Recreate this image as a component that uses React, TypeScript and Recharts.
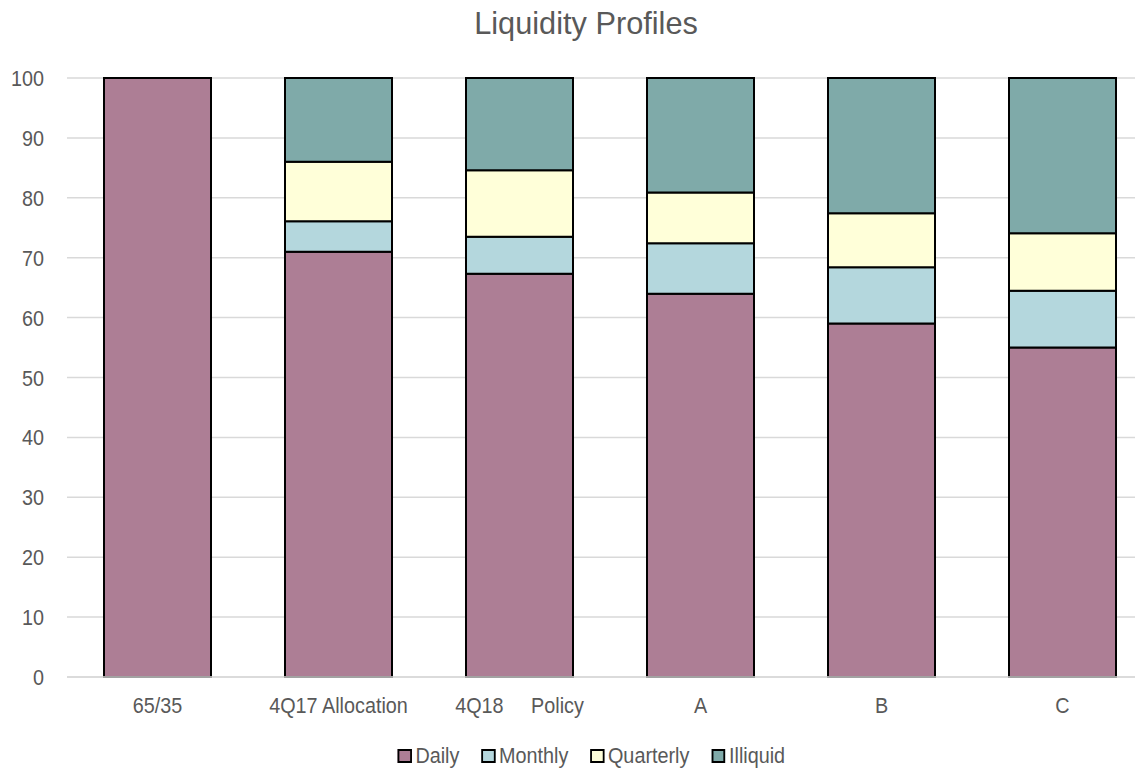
import { Bar, BarChart, CartesianGrid, Legend, XAxis, YAxis } from "recharts";

const CATEGORIES = ["65/35", "4Q17 Allocation", "4Q18     Policy", "A", "B", "C"];
const DAILY = [100, 71, 67.3, 64, 59, 55];
const MONTHLY = [0, 5.1, 6.2, 8.4, 9.4, 9.5];
const QUARTERLY = [0, 9.9, 11.1, 8.5, 9.0, 9.6];
const ILLIQUID = [0, 14, 15.4, 19.1, 22.6, 25.9];
const Y_TICKS = [0, 10, 20, 30, 40, 50, 60, 70, 80, 90, 100];

const SERIES = [
  { key: "Daily", values: DAILY, color: "#AD7E95" },
  { key: "Monthly", values: MONTHLY, color: "#B4D7DD" },
  { key: "Quarterly", values: QUARTERLY, color: "#FFFFD9" },
  { key: "Illiquid", values: ILLIQUID, color: "#7FAAA9" },
];

const rows = CATEGORIES.map((name, i) => {
  const row: Record<string, string | number> = { name };
  SERIES.forEach((s) => {
    row[s.key] = s.values[i];
  });
  return row;
});

const FONT = '"Liberation Sans", Arial, sans-serif';
const TEXT = "#595959";
// squeeze factor to get a narrow-ish face out of Liberation Sans
const SQUEEZE = 0.9;

function CategoryTick(props: any) {
  const { x, y, payload } = props;
  return (
    <g transform={`translate(${x},${y}) scale(${SQUEEZE},1)`}>
      <text
        x={0}
        y={0}
        dy={28}
        textAnchor="middle"
        fill={TEXT}
        fontSize={22}
        fontFamily={FONT}
        style={{ whiteSpace: "pre" }}
        xmlSpace="preserve"
      >
        {payload.value}
      </text>
    </g>
  );
}

function ValueTick(props: any) {
  const { x, y, payload } = props;
  return (
    <g transform={`translate(${x},${y}) scale(${SQUEEZE},1)`}>
      <text x={0} y={0} dy={8} textAnchor="end" fill={TEXT} fontSize={22} fontFamily={FONT}>
        {payload.value}
      </text>
    </g>
  );
}

function LegendRow() {
  return (
    <div
      style={{
        display: "flex",
        justifyContent: "center",
        gap: 24.5,
        fontFamily: FONT,
        fontSize: 22,
        color: TEXT,
        lineHeight: "24px",
        transform: `scaleX(${SQUEEZE})`,
        transformOrigin: "center",
      }}
    >
      {SERIES.map((s) => (
        <div key={s.key} style={{ display: "flex", alignItems: "center", gap: 4 }}>
          <span
            style={{ width: 11.5, height: 10, background: s.color, border: "2px solid #000", display: "inline-block" }}
          />
          <span>{s.key}</span>
        </div>
      ))}
    </div>
  );
}

export default function App() {
  return (
    <div style={{ position: "fixed", left: 0, top: 0, width: 1135, height: 768, overflow: "hidden", background: "#fff" }}>
      <div
        style={{
          position: "absolute",
          top: 5,
          left: 0,
          width: 1172,
          textAlign: "center",
          fontFamily: FONT,
          fontSize: 32,
          color: TEXT,
          transform: "scaleX(0.96)",
          transformOrigin: "586px 0",
        }}
      >
        Liquidity Profiles
      </div>
      <BarChart width={1160} height={768} data={rows} margin={{ top: 78, right: 7, bottom: 0, left: 0 }}>
        <CartesianGrid stroke="#D9D9D9" strokeWidth={1.5} vertical={false} />
        <XAxis
          dataKey="name"
          tick={<CategoryTick />}
          tickLine={false}
          axisLine={{ stroke: "#D9D9D9", strokeWidth: 1.5 }}
          height={66}
          interval={0}
        />
        <YAxis
          domain={[0, 100]}
          ticks={Y_TICKS}
          width={67}
          tickLine={false}
          axisLine={false}
          tickSize={0}
          tickMargin={23}
          tick={<ValueTick />}
        />
        <Legend
          verticalAlign="bottom"
          height={25}
          content={() => <LegendRow />}
          wrapperStyle={{ left: 0, width: 1183, bottom: -1 }}
        />
        {SERIES.map((s) => (
          <Bar
            key={s.key}
            dataKey={s.key}
            stackId="liq"
            fill={s.color}
            stroke="#000"
            strokeWidth={2}
            barSize={107}
            isAnimationActive={false}
          />
        ))}
      </BarChart>
    </div>
  );
}
